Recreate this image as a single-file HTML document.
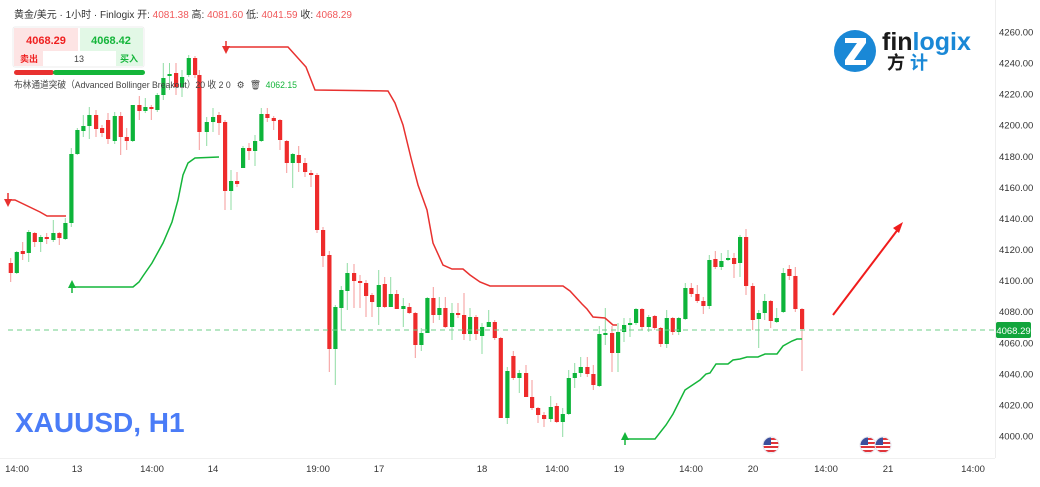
<!DOCTYPE html>
<html><head><meta charset="utf-8"><style>
html,body{margin:0;padding:0;background:#fff;}
body{width:1040px;height:482px;overflow:hidden;position:relative;font-family:"Liberation Sans","Noto Sans CJK SC",sans-serif;}
svg text{font-family:"Liberation Sans","Noto Sans CJK SC",sans-serif;}
</style></head><body>
<svg id="s" width="1040" height="482" viewBox="0 0 1040 482" xmlns="http://www.w3.org/2000/svg">
<line x1="995.5" y1="0" x2="995.5" y2="458" stroke="#eeeeee"/>
<line x1="0" y1="458.5" x2="995" y2="458.5" stroke="#f0f0f0"/>
<g id="candles"></g>
<line x1="8" y1="330" x2="995" y2="330" stroke="#6fcf8a" stroke-width="1" stroke-dasharray="5,4"/>
<polyline fill="none" stroke="#e8312f" stroke-width="1.5" points="7,200 15,200 40,212 47,216 66,216"/>
<polygon points="4,199 12,199 8,207" fill="#e8312f"/><line x1="8" y1="193" x2="8" y2="200" stroke="#e8312f" stroke-width="1.5"/>
<polyline fill="none" stroke="#e8312f" stroke-width="1.5" points="226,47 288,47 306,67 315,90 388,91 395,103 403,125 411,158 418,185 427,210 433,243 443,265 452,269 463,269 470,275 480,282 490,286 563,286 570,291 582,304 587,309 593,317 605,318 613,325 617,325"/>
<polygon points="222,46 230,46 226,54" fill="#e8312f"/><line x1="226" y1="41" x2="226" y2="47" stroke="#e8312f" stroke-width="1.5"/>
<polyline fill="none" stroke="#14b53a" stroke-width="1.5" points="72,287 133,287 139,282 143,276 152,263 163,243 172,222 178,200 183,175 188,163 195,158 219,157"/>
<polygon points="68,288 76,288 72,280" fill="#14b53a"/><line x1="72" y1="287" x2="72" y2="293" stroke="#14b53a" stroke-width="1.5"/>
<polyline fill="none" stroke="#14b53a" stroke-width="1.5" points="625,439 655,439 666,425 673,414 685,390 700,380 706,374 710,373 716,364 728,364 733,360 740,359 747,357 758,357 765,354 777,354 783,346 792,341 797,339 802,339"/>
<polygon points="621,440 629,440 625,432" fill="#14b53a"/><line x1="625" y1="439" x2="625" y2="445" stroke="#14b53a" stroke-width="1.5"/>
<line x1="833" y1="315" x2="899" y2="228" stroke="#f01c1c" stroke-width="2"/>
<polygon points="903,222 893,228 899,233" fill="#f01c1c"/>
<rect x="996" y="322" width="35" height="16" rx="2" fill="#12a53c"/>
<text x="1013.5" y="334" font-size="9.5" fill="#fff" text-anchor="middle">4068.29</text>
<g id="yax" font-size="9.5" fill="#333"></g>
<g font-size="9.5" fill="#333" text-anchor="middle">
<text x="17" y="472">14:00</text><text x="77" y="472">13</text><text x="152" y="472">14:00</text><text x="213" y="472">14</text><text x="318" y="472">19:00</text><text x="379" y="472">17</text><text x="482" y="472">18</text><text x="557" y="472">14:00</text><text x="619" y="472">19</text><text x="691" y="472">14:00</text><text x="753" y="472">20</text><text x="826" y="472">14:00</text><text x="888" y="472">21</text><text x="973" y="472">14:00</text>
</g>
<g id="flags"></g>
<text x="15" y="432" font-size="28" font-weight="bold" fill="#4a7cf7">XAUUSD, H1</text>
<text x="14" y="18" font-size="10" fill="#333" textLength="338" lengthAdjust="spacingAndGlyphs">黄金/美元 · 1小时 · Finlogix  <tspan>开:</tspan> <tspan fill="#f0585a">4081.38</tspan>  高: <tspan fill="#f0585a">4081.60</tspan>  低: <tspan fill="#f0585a">4041.59</tspan>  收: <tspan fill="#f0585a">4068.29</tspan></text>
<rect x="13" y="27" width="131" height="40" rx="2" fill="#fff" stroke="#eee"/>
<rect x="14" y="28" width="64" height="23" fill="#fde4e4"/>
<rect x="80" y="28" width="63" height="23" fill="#e2f8e6"/>
<text x="46" y="44" font-size="11" font-weight="bold" fill="#ef2020" text-anchor="middle">4068.29</text>
<text x="111" y="44" font-size="11" font-weight="bold" fill="#14b53a" text-anchor="middle">4068.42</text>
<rect x="14" y="51" width="29" height="15" fill="#fde4e4"/>
<rect x="116" y="51" width="27" height="15" fill="#e2f8e6"/>
<text x="29" y="62" font-size="9" font-weight="bold" fill="#ef2020" text-anchor="middle">卖出</text>
<text x="79" y="62" font-size="9" fill="#444" text-anchor="middle">13</text>
<text x="129" y="62" font-size="9" font-weight="bold" fill="#14b53a" text-anchor="middle">买入</text>
<rect x="14" y="70" width="40" height="5" rx="2.5" fill="#e8312f"/>
<rect x="53" y="70" width="92" height="5" rx="2.5" fill="#14b53a"/>
<text x="14" y="88" font-size="9.5" fill="#444" textLength="283" lengthAdjust="spacingAndGlyphs">布林通道突破（Advanced Bollinger Breakout）20 收 2 0 <tspan dx="4">⚙</tspan><tspan dx="6">🗑</tspan><tspan dx="5" fill="#14b53a">4062.15</tspan></text>
<circle cx="855" cy="51" r="21" fill="#1a88d6"/>
<path d="M845,38 L866,38 L866,43 L854,60 L866,60 L866,65 L845,65 L845,60 L857,43 L845,43 Z" fill="#fff"/>
<text x="882" y="50" font-size="25" font-weight="bold" fill="#1a1a1a">fin<tspan fill="#1a88d6">logix</tspan></text>
<text x="887" y="69" font-size="18" font-weight="bold" fill="#1a1a1a">方 <tspan fill="#1a88d6">计</tspan></text>
</svg>
<script>
var C=[
[10.7,263,273,258,282],[16.7,273,252,251,274],[22.7,251,254,242,260],[28.7,253,232,230,262],[34.7,233,242,232,247],[40.7,242,237,235,252],[46.7,237,239,233,244],[53.3,240,233,220,242],[59.3,233,238,232,245],[65.3,239,223,218,240],[71.3,223,154,148,227],[77.3,154,130,128,155],[83.3,131,126,115,137],[89.3,126,115,107,139],[96,115,129,110,137],[102,128,133,125,137],[108,120,139,113,144],[114.7,141,116,112,144],[120.7,116,137,112,155],[126.7,137,141,128,150],[132.7,141,105,105,142],[139.3,105,111,96,120],[145.3,111,107,98,113],[151.3,107,109,105,120],[157.3,110,95,93,112],
[163.3,95,78,63,100],[169.5,75,74,63,90],[176,73,87,63,95],[182,87,77,70,97],[188.7,75,58,55,77],[195,58,75,56,78],
[199.3,75,132,70,150],[206.7,132,122,117,146],[213,122,117,108,132],[219,115,123,112,135],[225,122,191,120,210],[231,191,181,170,210],[237,181,184,172,187],[243,168,148,146,168],[249,148,151,143,160],[255,151,141,135,166],[261.3,141,114,108,142],[267.3,114,118,108,122],[273.7,118,121,116,130],[280,120,140,119,150],[286.7,141,163,140,173],[292.7,163,154,153,188],[298.7,155,163,146,172],[305,163,172,158,177],[311,173,175,170,187],[317,175,230,173,233],[323,230,256,227,267],
[329.3,255,349,251,372],[335.3,349,307,305,385],[341.3,308,290,286,330],[347.3,291,273,263,310],[354,273,281,264,308],[360,281,283,275,308],[366,283,296,280,317],[372,295,302,293,317],[378.7,307,285,270,325],[384.7,284,307,277,308],[390.7,307,294,277,307],[396.7,294,309,290,309],[403.3,309,306,298,327],[409.3,307,313,303,314],[415.3,313,345,312,358],[421.3,345,333,328,351],[427.3,333,298,297,333],[433.3,298,315,287,323],[439.3,315,308,297,320],[445.3,308,327,297,328],[452,327,313,303,340],[458,313,315,303,318],[464,315,334,293,340],[470,334,317,308,341],[476,317,334,315,340],[482,336,327,323,354],[488.7,327,322,310,327],[494.7,322,338,320,340],
[500.7,338,418,337,418],[507.3,418,371,367,424],[513.3,356,378,351,380],[519.3,378,373,370,393],[526,373,397,365,397],[532,397,408,380,410],[538,408,415,407,423],[544,415,419,412,427],[550.7,419,407,396,422],[556.7,406,422,403,423],[562.7,422,414,408,437],[568.7,414,378,370,415],[574.7,378,373,363,388],[580.7,373,367,357,377],[587.3,367,374,357,377],[593.3,374,385,365,390],
[599.3,386,334,326,387],[605.3,335,333,308,345],[612,333,353,326,372],[618,353,332,323,372],[624,332,325,318,342],[630,324,323,318,337],[636,323,309,308,325],[642,309,327,308,330],[648.7,327,317,315,332],[654.7,316,328,315,330],[660.7,328,344,327,347],[666.7,344,318,310,348],[672.7,318,332,317,335],[678.7,332,318,317,335],[685.3,319,288,283,320],[691.3,288,294,283,297],[697.3,294,301,285,303],[703.3,301,306,297,314],[709.3,306,260,255,309],[715.3,259,267,251,269],[721.3,267,261,253,270],[728,260,258,250,261],[734,258,264,253,278],[740,263,237,235,277],[746,237,286,229,295],[752.7,286,320,283,330],[758.7,319,313,310,348],[764.7,313,301,294,320],[770.7,301,321,300,328],[776.7,322,318,308,323],[783.3,312,273,268,313],[789.3,269,276,265,280],[795.3,276,309,267,312],[802,309,329,308,371]
];
var g=document.getElementById('candles'),h='';
C.forEach(function(c){var red=c[2]>c[1];var col=red?'#ee2b2b':'#0db43a';var wc=red?'#f59a9a':'#8fdca3';
var t=Math.min(c[1],c[2]),b=Math.max(c[1],c[2]);if(b-t<2){b=t+2;}
h+='<line x1="'+c[0]+'" y1="'+c[3]+'" x2="'+c[0]+'" y2="'+c[4]+'" stroke="'+wc+'" stroke-width="1"/>';
h+='<rect x="'+(c[0]-2)+'" y="'+t+'" width="4.2" height="'+(b-t)+'" fill="'+col+'"/>';});
g.innerHTML=h;
var y=document.getElementById('yax'),s='';
for(var v=4260;v>=4000;v-=20){var py=436-(v-4000)*1.554;s+='<text x="999" y="'+(py+3.5)+'">'+v+'.00</text>';}
y.innerHTML=s;
var f=document.getElementById('flags'),fs='';
[771,868,883].forEach(function(x){var id='c'+x;
fs+='<clipPath id="'+id+'"><circle cx="'+x+'" cy="445" r="8"/></clipPath><g clip-path="url(#'+id+')"><rect x="'+(x-8)+'" y="437" width="16" height="16" fill="#fff"/>';
for(var i=0;i<4;i++)fs+='<rect x="'+(x-8)+'" y="'+(438+i*4)+'" width="16" height="2" fill="#e0353b"/>';
fs+='<rect x="'+(x-8)+'" y="437" width="8" height="8" fill="#3c4f9c"/></g><circle cx="'+x+'" cy="445" r="8" fill="none" stroke="#e6e6ee" stroke-width="1"/>';});
f.innerHTML=fs;
</script>
</body></html>
